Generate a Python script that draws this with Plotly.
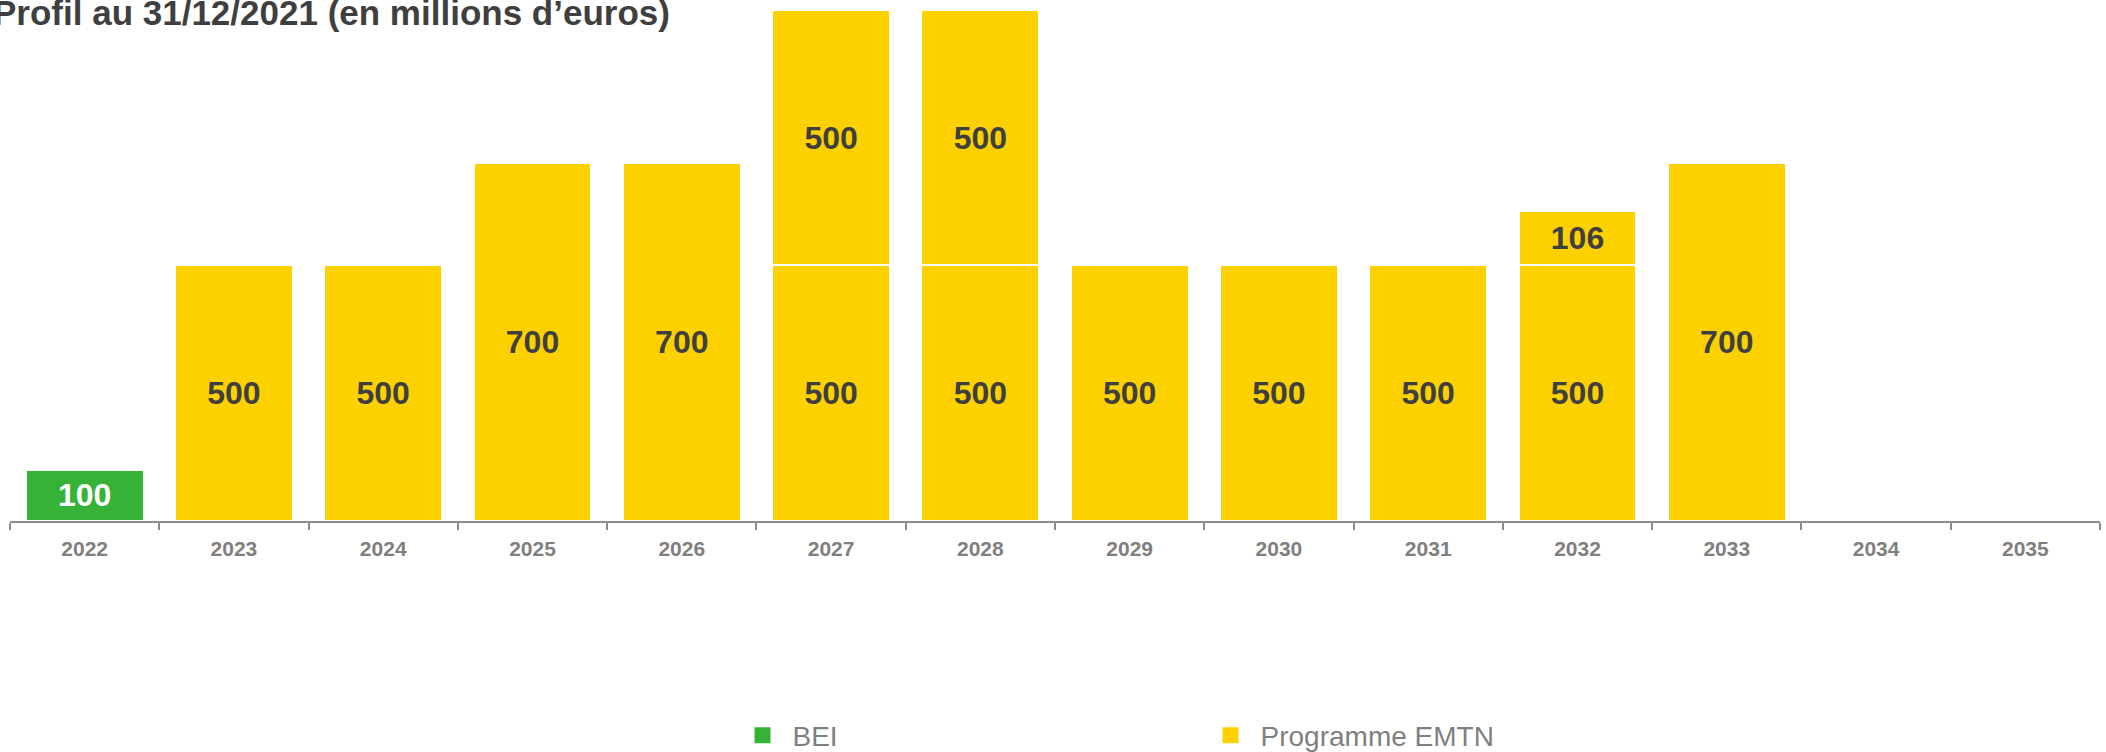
import plotly.graph_objects as go

# Échéancier de la dette – profil au 31/12/2021 (millions d'euros)
years = ["2022", "2023", "2024", "2025", "2026", "2027", "2028",
         "2029", "2030", "2031", "2032", "2033", "2034", "2035"]
bei = [100, None, None, None, None, None, None, None, None, None, None, None, None, None]
emtn_tranche_1 = [None, 500, 500, 700, 700, 500, 500, 500, 500, 500, 500, 700, None, None]
emtn_tranche_2 = [None, None, None, None, None, 500, 500, None, None, None, 106, None, None, None]

title_text = "Profil au 31/12/2021 (en millions d\u2019euros)"
series_names = ["BEI", "Programme EMTN"]

GREEN = "#36B236"
YELLOW = "#FDD100"
DARK = "#3F3F3F"
GREY = "#7F7F7F"
FONT = "Liberation Sans, Arial, sans-serif"


def labels(vals):
    return ["" if v is None else str(v) for v in vals]


fig = go.Figure()

for vals, color, txtcolor in [(bei, GREEN, "white"),
                              (emtn_tranche_1, YELLOW, DARK),
                              (emtn_tranche_2, YELLOW, DARK)]:
    fig.add_trace(go.Bar(
        x=years, y=vals,
        marker=dict(color=color, line=dict(color="white", width=2)),
        text=labels(vals), textposition="inside", insidetextanchor="middle",
        constraintext="none",
        textfont=dict(family=FONT, size=32, color=txtcolor, weight="bold"),
        showlegend=False, hoverinfo="skip",
    ))

# Legend entries with square swatches
for name, color in zip(series_names, [GREEN, YELLOW]):
    fig.add_trace(go.Scatter(
        x=[None], y=[None], mode="markers", name=name,
        marker=dict(symbol="square", size=16, color=color),
    ))

fig.add_annotation(
    text="<b>" + title_text + "</b>", xref="paper", yref="paper",
    x=0, y=1, xanchor="left", yanchor="top", xshift=-19, yshift=9,
    showarrow=False, font=dict(family=FONT, size=35, color=DARK),
)

fig.update_layout(
    width=2106, height=752,
    margin=dict(l=10, r=6, t=0, b=231),
    paper_bgcolor="white", plot_bgcolor="white",
    barmode="stack", bargap=0.21,
    font=dict(family=FONT, color=GREY),
    legend=dict(
        orientation="h", traceorder="normal",
        x=0.3457, xanchor="left",
        yref="container", y=0.022, yanchor="middle",
        itemwidth=50,
        entrywidth=403, entrywidthmode="pixels",
        font=dict(family=FONT, size=28, color=GREY),
    ),
    xaxis=dict(
        type="category", showgrid=False, zeroline=False,
        showline=True, linecolor="#8C8C8C", linewidth=2,
        ticks="outside", tickson="boundaries", ticklen=7, tickwidth=2,
        tickcolor="#8C8C8C", ticklabelstandoff=8,
        tickfont=dict(family=FONT, size=21, color=GREY, weight="bold"),
    ),
    yaxis=dict(range=[0, 1019], visible=False, fixedrange=True),
)

fig.write_html("out.html")
